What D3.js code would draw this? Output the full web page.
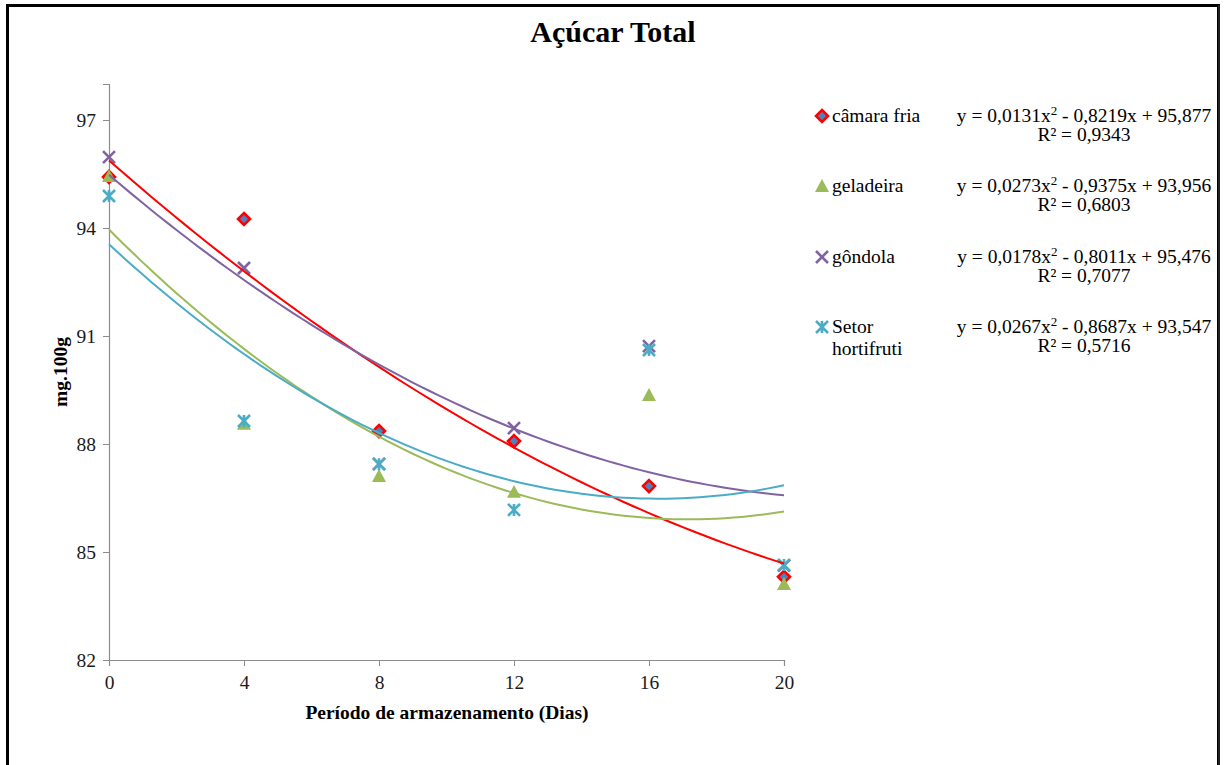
<!DOCTYPE html>
<html><head><meta charset="utf-8">
<script src="https://cdn.jsdelivr.net/npm/d3@7"></script>
<style>body{margin:0;background:#fff}svg{display:block}text{font-family:"Liberation Serif","Times New Roman",serif}</style>
</head><body><svg id="c" width="1224" height="765"></svg>
<script>
const days = [0, 4, 8, 12, 16, 20];
const seriesNames = ["câmara fria", "geladeira", "gôndola", "Setor hortifruti"];
const camaraFria = [95.42, 94.25, 88.36, 88.08, 86.83, 84.31];
const geladeira = [95.44, 88.56, 87.11, 86.67, 89.36, 84.11];
const gondola = [95.97, 92.89, 87.45, 88.44, 90.72, 84.62];
const setorHortifruti = [94.89, 88.64, 87.44, 86.17, 90.61, 84.64];
// trendline coefficients [a2, a1, a0] as printed on the chart
const trendCoefs = [[0.0131, -0.8219, 95.877], [0.0273, -0.9375, 93.956], [0.0178, -0.8011, 95.476], [0.0267, -0.8687, 93.547]];
const eqFirst = ["y = 0,0131x", "y = 0,0273x", "y = 0,0178x", "y = 0,0267x"];
const eqRest = [" - 0,8219x + 95,877", " - 0,9375x + 93,956", " - 0,8011x + 95,476", " - 0,8687x + 93,547"];
const r2Labels = ["R² = 0,9343", "R² = 0,6803", "R² = 0,7077", "R² = 0,5716"];
const yTicks = [82, 85, 88, 91, 94, 97];
const xTicks = [0, 4, 8, 12, 16, 20];

const colors = ["#FF0000", "#9BBB59", "#8064A2", "#4BACC6"];
const allValues = [camaraFria, geladeira, gondola, setorHortifruti];

const svg = d3.select("#c");
// frame
svg.append("rect").attr("x", 7.5).attr("y", 5.5).attr("width", 1211).attr("height", 800)
  .attr("fill", "none").attr("stroke", "#000").attr("stroke-width", 3);
svg.append("line").attr("x1", 1219).attr("x2", 1219).attr("y1", 5).attr("y2", 765).attr("stroke", "#444").attr("stroke-width", 1);

const x = d3.scaleLinear().domain([0, 20]).range([109, 784]);
const y = d3.scaleLinear().domain([82, 98]).range([660, 84]);

// title
svg.append("text").attr("x", 613).attr("y", 42).attr("text-anchor", "middle")
  .attr("font-size", 30).attr("font-weight", "bold").text("Açúcar Total");

// axes
const yAxis = d3.axisLeft(y).tickValues(yTicks).tickSize(6).tickPadding(7);
const gy = svg.append("g").attr("transform", `translate(${x(0)},0)`).call(yAxis);
const xAxis = d3.axisBottom(x).tickValues(xTicks).tickSize(6).tickPadding(9);
const gx = svg.append("g").attr("transform", `translate(0,${y(82)})`).call(xAxis);
[gx, gy].forEach(g => {
  g.attr("font-family", null);
  g.select(".domain").attr("stroke", "#8c8c8c").attr("stroke-width", 1.2);
  g.selectAll(".tick line").attr("stroke", "#8c8c8c");
  g.selectAll(".tick text").attr("font-size", 19.5).attr("fill", "#1a1a1a");
});
gy.selectAll(".tick text").attr("dy", "0.35em");

// axis titles
svg.append("text").attr("x", 447).attr("y", 719).attr("text-anchor", "middle")
  .attr("font-size", 19.5).attr("font-weight", "bold").text("Período de armazenamento (Dias)");
svg.append("text").attr("transform", "translate(67,372) rotate(-90)").attr("text-anchor", "middle")
  .attr("font-size", 19.5).attr("font-weight", "bold").text("mg.100g");

// markers
function drawMarker(g, i, cx, cy) {
  if (i === 0) {
    const s = 6;
    g.append("path").attr("d", `M${cx},${cy - s}L${cx + s},${cy}L${cx},${cy + s}L${cx - s},${cy}Z`)
      .attr("fill", "#4F81BD").attr("stroke", "#FF0000").attr("stroke-width", 2.6);
  } else if (i === 1) {
    const s = 7;
    g.append("path").attr("d", `M${cx},${cy - s}L${cx + s},${cy + s * 0.85}L${cx - s},${cy + s * 0.85}Z`)
      .attr("fill", "#9BBB59");
  } else if (i === 2) {
    const s = 6;
    g.append("path").attr("d", `M${cx - s},${cy - s}L${cx + s},${cy + s}M${cx + s},${cy - s}L${cx - s},${cy + s}`)
      .attr("stroke", "#8064A2").attr("stroke-width", 2.6).attr("fill", "none");
  } else {
    const s = 6;
    g.append("path").attr("d", `M${cx - s},${cy - s}L${cx + s},${cy + s}M${cx + s},${cy - s}L${cx - s},${cy + s}M${cx},${cy - s}L${cx},${cy + s}`)
      .attr("stroke", "#4BACC6").attr("stroke-width", 2.6).attr("fill", "none");
  }
}

const pts = svg.append("g");
allValues.forEach((vals, i) => {
  vals.forEach((v, j) => drawMarker(pts, i, x(days[j]), y(v)));
});

// trendlines
const xs = d3.range(0, 20.01, 0.25);
const line = d3.line().x(d => x(d[0])).y(d => y(d[1]));
trendCoefs.forEach((c, i) => {
  const data = xs.map(t => [t, c[0] * t * t + c[1] * t + c[2]]);
  svg.append("path").attr("d", line(data)).attr("fill", "none")
    .attr("stroke", colors[i]).attr("stroke-width", 2);
});

// legend
const legY = [116, 186, 257, 327];
const leg = svg.append("g");
seriesNames.forEach((name, i) => {
  drawMarker(leg, i, 822, legY[i]);
  if (i === 3) {
    leg.append("text").attr("x", 832).attr("y", legY[i] + 6).attr("font-size", 19.5).text("Setor");
    leg.append("text").attr("x", 832).attr("y", legY[i] + 28).attr("font-size", 19.5).text("hortifruti");
  } else {
    leg.append("text").attr("x", 832).attr("y", legY[i] + 6).attr("font-size", 19.5).text(name);
  }
  const eq = leg.append("text").attr("x", 1084).attr("y", legY[i] + 6).attr("text-anchor", "middle").attr("font-size", 19.5);
  eq.append("tspan").text(eqFirst[i]);
  eq.append("tspan").attr("font-size", 13).attr("dy", -7).text("2");
  eq.append("tspan").attr("dy", 7).text(eqRest[i]);
  leg.append("text").attr("x", 1084).attr("y", legY[i] + 25).attr("text-anchor", "middle").attr("font-size", 19.5).text(r2Labels[i]);
});
</script></body></html>
